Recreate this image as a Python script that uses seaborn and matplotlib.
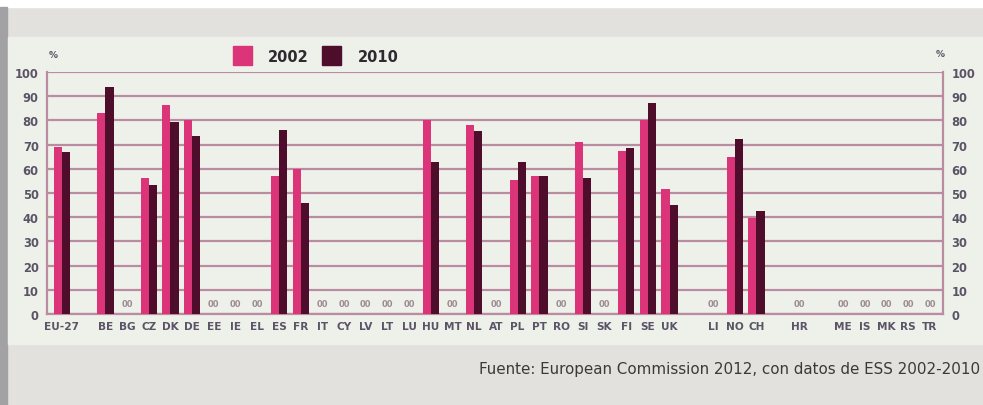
import numpy as np
import pandas as pd
import matplotlib
matplotlib.use("Agg")
import matplotlib.pyplot as plt
from matplotlib.patches import Rectangle
import seaborn as sns

# country groups (a blank slot is left between groups)
group_eu = ["EU-27"]
group_members = ["BE", "BG", "CZ", "DK", "DE", "EE", "IE", "EL", "ES", "FR", "IT",
                 "CY", "LV", "LT", "LU", "HU", "MT", "NL", "AT", "PL", "PT", "RO",
                 "SI", "SK", "FI", "SE", "UK"]
group_efta = ["LI", "NO", "CH"]
group_hr = ["HR"]
group_cand = ["ME", "IS", "MK", "RS", "TR"]

# values in %, missing country = no data
vals_2002 = {"EU-27": 69, "BE": 83, "CZ": 56, "DK": 86.5, "DE": 80, "ES": 57, "FR": 60,
             "HU": 80, "NL": 78, "PL": 55.5, "PT": 57, "SI": 71, "FI": 67.5, "SE": 80,
             "UK": 51.5, "NO": 65, "CH": 39.5}
vals_2010 = {"EU-27": 67, "BE": 94, "CZ": 53.5, "DK": 79.5, "DE": 73.5, "ES": 76, "FR": 46,
             "HU": 63, "NL": 75.5, "PL": 63, "PT": 57, "SI": 56, "FI": 68.5, "SE": 87,
             "UK": 45, "NO": 72.5, "CH": 42.5}

years = ["2002", "2010"]
colors = ["#dc3479", "#4e0d2a"]
grid_col = "#b98ca2"
label_col = "#5b5366"

groups = [group_eu, group_members, group_efta, group_hr, group_cand]
countries, positions = [], []
slot = 0
for g in groups:
    for c in g:
        countries.append(c)
        positions.append(slot)
        slot += 1
    slot += 1

rows = []
for c, p in zip(countries, positions):
    for y, d in zip(years, [vals_2002, vals_2010]):
        rows.append({"country": c, "pos": p, "year": y, "value": d.get(c)})
df = pd.DataFrame(rows)
bars = df.dropna(subset=["value"])
missing = [p for c, p in zip(countries, positions) if c not in vals_2002 and c not in vals_2010]

fig = plt.figure(figsize=(9.83, 4.06), dpi=100, facecolor="#e2e1dd")
fig.patches.append(Rectangle((0, 1 - 8 / 406), 1, 8 / 406, transform=fig.transFigure,
                             color="white", zorder=-5))
fig.patches.append(Rectangle((0, 0), 7 / 983, 1 - 8 / 406, transform=fig.transFigure,
                             color="#a2a2a4", zorder=-5))
fig.patches.append(Rectangle((8 / 983, 61 / 406), 1, 307 / 406, transform=fig.transFigure,
                             color="#eef0ea", zorder=-5))

ax = fig.add_axes([47 / 983, 91 / 406, 896 / 983, 242 / 406])
ax.set_zorder(2)
ax.set_facecolor("none")

sns.barplot(data=bars, x="pos", y="value", hue="year", hue_order=years,
            palette=colors, saturation=1, native_scale=True, width=0.75, linewidth=0,
            errorbar=None, legend=False, ax=ax, zorder=3)

ax.set_xlim(-0.69, 40.6)
ax.set_ylim(0, 100)
ax.set_yticks(range(0, 101, 10))
ax.yaxis.grid(True, color=grid_col, linewidth=1.6, zorder=0)
ax.set_axisbelow(True)
for s in ["left", "right", "bottom"]:
    ax.spines[s].set_color(grid_col)
    ax.spines[s].set_linewidth(1.6)
ax.spines["top"].set_visible(False)

lab_font = dict(family=["Liberation Sans Narrow", "DejaVu Sans"], weight="bold")
ax.set_xticks(positions)
ax.set_xticklabels(countries, color=label_col, fontsize=7.6, **lab_font)
ax.tick_params(axis="x", length=0, pad=5)
ax.tick_params(axis="y", length=0, pad=6, labelright=True, labelcolor=label_col, labelsize=8.3)
for t in ax.get_yticklabels():
    t.set_family(lab_font["family"])
    t.set_weight("bold")
ax.set_xlabel("")
ax.set_ylabel("")

for p in missing:
    ax.text(p, 4.5, "00", ha="center", va="center", fontsize=6, color="#9b8a93",
            fontweight="bold", zorder=4)

ax.text(0.002, 1.06, "%", transform=ax.transAxes, fontsize=6.5, color=label_col,
        fontweight="bold")
ax.text(0.992, 1.065, "%", transform=ax.transAxes, fontsize=6.5, color=label_col,
        fontweight="bold")

# legend
for x0, col, lab, xt in [(233, colors[0], years[0], 268), (322, colors[1], years[1], 358)]:
    fig.patches.append(Rectangle((x0 / 983, (406 - 66) / 406), 19 / 983, 19 / 406,
                                 transform=fig.transFigure, color=col, zorder=2))
    fig.text(xt / 983, (406 - 57) / 406, lab, ha="left", va="center", fontsize=10.5,
             color="#2e2a30", **lab_font)

fig.text(479 / 983, (406 - 370) / 406,
         "Fuente: European Commission 2012, con datos de ESS 2002-2010",
         ha="left", va="center", fontsize=10.9, color="#3a3a3a", family="DejaVu Sans")

fig.savefig("out.png", dpi=100, facecolor=fig.get_facecolor())
